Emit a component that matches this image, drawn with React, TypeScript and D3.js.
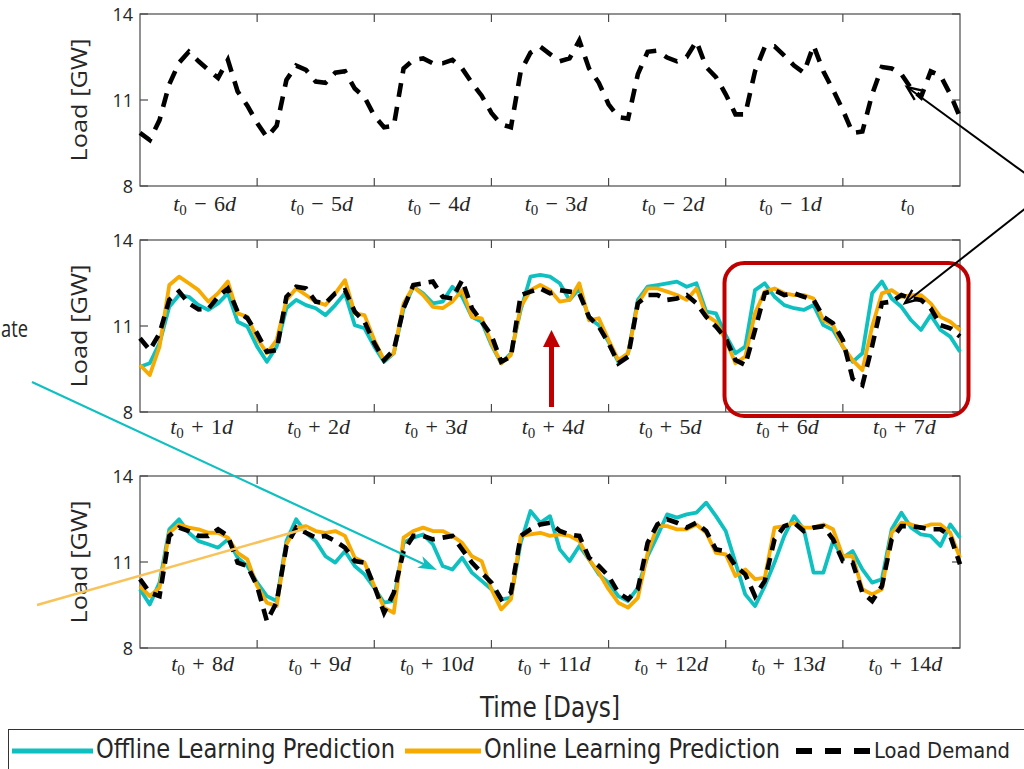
import React from 'react';
import * as d3 from 'd3';

// ---------- data ----------
const daysPast = [-6, -5, -4, -3, -2, -1, 0];
const daysNext = [1, 2, 3, 4, 5, 6, 7];
const daysLater = [8, 9, 10, 11, 12, 13, 14];
const yTicks = [8, 11, 14];
const samplesPerDay = 12; // one value every 2 hours

// Panel 1: load demand over the past week
const demandPast = [
  9.85, 9.6, 10.3, 11.55, 12.3, 12.68, 12.35, 12.05, 11.77, 12.4, 11.3, 10.8,
  10.2, 9.7, 10.1, 11.7, 12.2, 12.05, 11.64, 11.6, 11.95, 12.0, 11.4, 11.1,
  10.45, 10.05, 10.1, 12.1, 12.4, 12.45, 12.28, 12.28, 12.4, 12.1, 11.6, 11.15,
  10.55, 10.15, 10.05, 12.0, 12.65, 12.86, 12.6, 12.35, 12.45, 13.08, 12.1, 11.6,
  10.85, 10.4, 10.35, 11.9, 12.68, 12.72, 12.48, 12.35, 12.5, 13.05, 12.15, 11.8,
  11.2, 10.5, 10.5, 12.0, 12.85, 12.87, 12.55, 12.2, 11.95, 12.9, 12.0, 11.35,
  10.65, 9.85, 9.9, 11.2, 12.15, 12.1, 11.9, 11.4, 11.1, 12.0, 11.85, 11.2,
  10.4,
];

// Panel 2: days t0+1 .. t0+7
const demandWeek1 = [
  10.57, 10.16, 10.74, 11.91, 12.2, 11.79, 11.58, 11.6, 12.02, 12.31, 11.5, 11.27,
  10.74, 10.1, 10.16, 12.02, 12.37, 12.31, 11.85, 11.79, 12.14, 12.25, 11.5, 11.15,
  10.4, 9.81, 10.16, 11.62, 12.43, 12.49, 12.55, 12.02, 11.96, 12.6, 11.62, 11.15,
  10.68, 9.75, 9.93, 12.08, 12.2, 12.31, 12.14,
  12.25, 12.2, 12.14, 11.32, 10.98, 10.4, 9.7, 9.93, 11.79, 12.08, 12.08, 11.91,
  11.96, 12.08, 11.79, 11.32, 10.98, 10.57, 9.81, 9.64, 10.86, 12.14, 12.25, 12.08,
  12.14, 12.02, 11.91, 11.32, 11.09, 10.51, 9.17, 8.94, 10.3, 11.8, 11.85, 12.08,
  11.96, 11.91, 11.62, 11.03, 10.92, 10.63,
];
const offlineWeek1 = [
  9.58, 9.7, 10.4, 11.67, 12.08, 12.02, 11.73, 11.56, 11.79, 12.14, 11.15, 10.98,
  10.28, 9.75, 10.28, 11.62, 11.91, 11.73, 11.62, 11.38, 11.73, 12.14, 11.03, 10.92,
  10.28, 9.75, 10.05, 11.62, 12.37, 12.14, 11.79, 11.85, 12.37, 12.02, 11.32, 11.15,
  10.34, 9.7, 10.05, 11.56, 12.72, 12.78, 12.72,
  12.49, 11.91, 12.31, 11.27, 11.03, 10.45, 9.75, 10.05, 11.91, 12.37, 12.43, 12.49,
  12.55, 12.37, 12.49, 11.5, 11.44, 10.68, 10.05, 10.28, 12.25, 12.49, 12.02, 11.73,
  11.62, 11.56, 11.73, 11.03, 10.86, 10.28, 9.75, 10.05, 12.14, 12.55, 11.96, 11.67,
  11.2, 10.86, 11.38, 10.86, 10.63, 10.1,
];
const onlineWeek1 = [
  9.64, 9.29, 10.28, 12.43, 12.72, 12.49, 12.25, 11.85, 12.14, 12.55, 11.44, 11.32,
  10.57, 10.05, 10.51, 11.91, 12.31, 12.08, 11.85, 11.73, 12.14, 12.6, 11.44, 11.38,
  10.51, 9.81, 10.05, 11.79, 12.37, 12.08, 11.67, 11.62, 11.85, 12.25, 11.32, 11.27,
  10.4, 9.7, 9.99, 11.67, 12.25, 12.43, 12.25,
  11.85, 11.91, 12.49, 11.2, 11.27, 10.51, 9.81, 10.05, 11.79, 12.31, 12.31, 12.2,
  12.08, 11.91, 12.31, 11.38, 11.15, 10.51, 9.7, 9.93, 11.44, 12.2, 12.31, 12.14,
  12.08, 12.08, 11.96, 11.2, 11.03, 10.28, 9.81, 9.46, 10.98, 12.14, 12.25, 12.02,
  12.08, 12.08, 11.79, 11.32, 11.15, 10.86,
];

// Panel 3: days t0+8 .. t0+14
const demandWeek2 = [
  10.4, 9.93, 9.81, 11.91, 12.2, 12.08, 11.91, 11.91, 12.14, 11.91, 10.98, 10.86,
  10.16, 8.94, 9.6, 11.56, 12.2, 12.02, 11.85, 11.91, 11.73, 11.5, 11.03, 10.98,
  10.16, 9.23, 9.93, 11.38, 11.91, 11.91, 11.79, 11.85, 11.91, 11.44, 10.98, 10.63,
  10.28, 9.7, 9.93, 11.91, 12.14, 12.31, 12.37,
  12.08, 11.96, 11.91, 11.15, 10.86, 10.51, 9.93, 9.7, 10.05, 11.67, 12.31, 12.49,
  12.37, 12.2, 12.37, 12.08, 11.44, 11.38, 10.86, 10.57, 9.81, 10.34, 11.79, 12.25,
  12.37, 12.08, 12.2, 12.25, 11.79, 11.03, 10.98, 9.93, 9.64, 10.16, 11.79, 12.25,
  12.25, 12.2, 12.14, 12.14, 11.91, 10.92,
];
const offlineWeek2 = [
  10.05, 9.52, 10.28, 12.14, 12.49, 12.02, 11.73, 11.62, 11.5, 11.79, 11.15, 10.86,
  10.28, 9.81, 9.64, 11.73, 12.49, 12.02, 11.73, 11.2, 10.98, 11.38, 10.86, 10.57,
  10.1, 9.58, 9.64, 11.67, 11.85, 11.96, 11.62, 10.86, 10.74, 11.15, 10.63, 10.34,
  10.05, 9.7, 9.75, 11.67, 12.78, 12.37, 12.6,
  11.44, 11.03, 11.56, 11.09, 10.57, 10.28, 9.81, 9.64, 10.1, 11.2, 11.91, 12.66,
  12.55, 12.66, 12.72, 13.07, 12.6, 12.08, 10.98, 9.87, 9.46, 10.16, 10.98, 11.91,
  12.6, 12.14, 10.63, 10.63, 11.73, 11.15, 11.38, 10.74, 10.28, 10.4, 12.14, 12.72,
  12.2, 11.96, 11.91, 11.56, 12.31, 11.85,
];
const onlineWeek2 = [
  10.16, 9.81, 10.1, 12.02, 12.31, 12.2, 12.14, 12.02, 12.02, 11.85, 11.32, 11.09,
  10.16, 9.58, 9.46, 11.62, 12.2, 12.25, 12.08, 12.02, 12.08, 11.91, 11.15, 10.98,
  10.16, 9.41, 9.23, 11.85, 12.08, 12.2, 12.08, 12.08, 11.91, 11.67, 11.2, 11.03,
  10.05, 9.35, 9.7, 11.91, 11.96, 12.02, 11.91,
  11.96, 11.91, 11.73, 11.09, 10.63, 10.05, 9.58, 9.41, 9.75, 11.32, 12.25, 12.25,
  12.14, 12.14, 12.31, 12.02, 11.32, 11.27, 10.51, 10.74, 10.4, 10.45, 12.2, 12.25,
  12.37, 12.2, 12.2, 12.31, 12.14, 11.2, 11.2, 10.05, 9.87, 10.05, 12.02, 12.37,
  12.31, 12.2, 12.31, 12.31, 12.02, 11.15,
];

const legendLabels = ['Offline Learning Prediction', 'Online Learning Prediction', 'Load Demand'];

// ---------- styling ----------
const CYAN = '#0FC0C0';
const ORANGE = '#F7AA00';
const BLACK = '#000000';
const RED = '#C00000';
const TEXT = '#262626';
const AXIS = '#4a4a4a';

const X0 = 140;
const X1 = 960;

type Panel = {
  top: number;
  bottom: number;
  days: number[];
  labelY: number;
  labelDx: number;
  demand: number[];
  offline?: number[];
  online?: number[];
  dash: string;
};

const panels: Panel[] = [
  { top: 14, bottom: 186, days: daysPast, labelY: 211, labelDx: 6, demand: demandPast, dash: '14,10' },
  { top: 240, bottom: 412, days: daysNext, labelY: 434, labelDx: 3, demand: demandWeek1, offline: offlineWeek1, online: onlineWeek1, dash: '12,8' },
  { top: 476, bottom: 648, days: daysLater, labelY: 671, labelDx: 4, demand: demandWeek2, offline: offlineWeek2, online: onlineWeek2, dash: '12,8' },
];

const x = d3.scaleLinear().domain([0, 7]).range([X0, X1]);

function DayLabel({ d, cx, y }: { d: number; cx: number; y: number }) {
  const sp = '\u2004';
  return (
    <text x={cx} y={y} textAnchor="middle" fontFamily="'Liberation Serif', 'DejaVu Serif', serif" fontSize={22} fill={TEXT} style={{ whiteSpace: 'pre' }}>
      <tspan fontStyle="italic">t</tspan>
      <tspan fontSize={15} dy={4}>0</tspan>
      {d !== 0 ? <tspan dy={-4}>{`${sp}${d < 0 ? '\u2212' : '+'}${sp}${Math.abs(d)}`}</tspan> : null}
      {d !== 0 ? <tspan fontStyle="italic">d</tspan> : null}
    </text>
  );
}

function arrowHeadLines(x1: number, y1: number, x2: number, y2: number, len: number, ang: number) {
  const a = Math.atan2(y1 - y2, x1 - x2);
  const p1 = [x2 + len * Math.cos(a + ang), y2 + len * Math.sin(a + ang)];
  const p2 = [x2 + len * Math.cos(a - ang), y2 + len * Math.sin(a - ang)];
  return `M${p1[0]},${p1[1]}L${x2},${y2}L${p2[0]},${p2[1]}`;
}

function stealthHead(x1: number, y1: number, x2: number, y2: number, len: number, ang: number) {
  const a = Math.atan2(y1 - y2, x1 - x2);
  const p1 = [x2 + len * Math.cos(a + ang), y2 + len * Math.sin(a + ang)];
  const p2 = [x2 + len * Math.cos(a - ang), y2 + len * Math.sin(a - ang)];
  const n = [x2 + len * 0.7 * Math.cos(a), y2 + len * 0.7 * Math.sin(a)];
  return `M${x2},${y2}L${p1[0]},${p1[1]}L${n[0]},${n[1]}L${p2[0]},${p2[1]}Z`;
}

function PanelView({ p }: { p: Panel }) {
  const y = d3.scaleLinear().domain([8, 14]).range([p.bottom, p.top]);
  const line = d3
    .line<number>()
    .x((_, i) => x(i / samplesPerDay))
    .y((v) => y(v))
    .curve(d3.curveLinear);
  const mid = (p.top + p.bottom) / 2;
  return (
    <g>
      <rect x={X0} y={p.top} width={X1 - X0} height={p.bottom - p.top} fill="#fff" stroke={AXIS} strokeWidth={1.2} />
      {d3.range(1, 7).map((k) => (
        <g key={k}>
          <line x1={x(k)} x2={x(k)} y1={p.top} y2={p.top + 8} stroke={AXIS} strokeWidth={1.2} />
          <line x1={x(k)} x2={x(k)} y1={p.bottom} y2={p.bottom - 8} stroke={AXIS} strokeWidth={1.2} />
        </g>
      ))}
      {yTicks.map((t) => (
        <g key={t}>
          <line x1={X0} x2={X0 + 8} y1={y(t)} y2={y(t)} stroke={AXIS} strokeWidth={1.2} />
          <line x1={X1} x2={X1 - 8} y1={y(t)} y2={y(t)} stroke={AXIS} strokeWidth={1.2} />
          <text x={133} y={y(t) + 6.5} textAnchor="end" fontFamily="'Open Sans', sans-serif" fontSize={18} fill={TEXT}>
            {t}
          </text>
        </g>
      ))}
      <text
        transform={`translate(87,${mid}) rotate(-90)`}
        textAnchor="middle"
        fontFamily="'Open Sans', sans-serif"
        fontSize={21}
        fill={TEXT}
        textLength={123}
        lengthAdjust="spacingAndGlyphs"
      >
        Load [GW]
      </text>
      {p.days.map((d, k) => (
        <DayLabel key={d} d={d} cx={x(k + 0.5) + p.labelDx} y={p.labelY} />
      ))}
      {p.offline ? <path d={line(p.offline) || ''} fill="none" stroke={CYAN} strokeWidth={3.8} strokeLinejoin="round" /> : null}
      {p.online ? <path d={line(p.online) || ''} fill="none" stroke={ORANGE} strokeWidth={3.8} strokeLinejoin="round" /> : null}
      <path d={line(p.demand) || ''} fill="none" stroke={BLACK} strokeWidth={4.6} strokeDasharray={p.dash} />
    </g>
  );
}

export default function App() {
  const condensed = "'DejaVu Sans Condensed', 'DejaVu Sans', sans-serif";
  return (
    <svg width={1024} height={769} style={{ position: 'absolute', left: 0, top: 0, background: '#fff' }}>
      <rect x={0} y={0} width={1024} height={769} fill="#fff" />
      {panels.map((p, i) => (
        <PanelView key={i} p={p} />
      ))}

      {/* x-axis title */}
      <text x={550} y={717} textAnchor="middle" fontFamily={condensed} fontSize={28} fill={TEXT} textLength={140} lengthAdjust="spacingAndGlyphs">
        Time [Days]
      </text>

      {/* legend */}
      <rect x={8.5} y={729.5} width={1100} height={60} fill="#fff" stroke="#333" strokeWidth={1} />
      <line x1={12} x2={93} y1={751} y2={751} stroke={CYAN} strokeWidth={5} />
      <text x={96} y={758} fontFamily={condensed} fontSize={26} fill={TEXT} textLength={299} lengthAdjust="spacingAndGlyphs">
        {legendLabels[0]}
      </text>
      <line x1={405} x2={481} y1={751} y2={751} stroke={ORANGE} strokeWidth={5} />
      <text x={484} y={758} fontFamily={condensed} fontSize={26} fill={TEXT} textLength={296} lengthAdjust="spacingAndGlyphs">
        {legendLabels[1]}
      </text>
      <line x1={796} x2={870} y1={751} y2={751} stroke={BLACK} strokeWidth={6} strokeDasharray="16,13" />
      <text x={874} y={758} fontFamily={condensed} fontSize={22} fill={TEXT} textLength={136} lengthAdjust="spacingAndGlyphs">
        {legendLabels[2]}
      </text>

      {/* annotations */}
      <text x={1} y={337} fontFamily="'Open Sans', sans-serif" fontSize={23} fill={TEXT} textLength={27} lengthAdjust="spacingAndGlyphs">
        ate
      </text>
      <rect x={724.5} y={263} width={244} height={153} rx={20} ry={20} fill="none" stroke={RED} strokeWidth={4} />
      <line x1={551.5} x2={551.5} y1={407} y2={344} stroke={RED} strokeWidth={5} />
      <path d="M551.5,330L560,347L543,347Z" fill={RED} />

      <line x1={1026} y1={174} x2={907} y2={87} stroke={BLACK} strokeWidth={2} />
      <path d={arrowHeadLines(1026, 174, 907, 87, 15, 0.4)} fill="none" stroke={BLACK} strokeWidth={2.4} />
      <line x1={1026} y1={208} x2={905} y2={303} stroke={BLACK} strokeWidth={2} />
      <path d={arrowHeadLines(1026, 208, 905, 303, 15, 0.4)} fill="none" stroke={BLACK} strokeWidth={2.4} />

      <line x1={32} y1={382} x2={430} y2={567} stroke={CYAN} strokeWidth={2.2} />
      <path d={stealthHead(32, 382, 437, 570, 20, 0.32)} fill={CYAN} />
      <line x1={37} y1={605} x2={308} y2={528} stroke="#F7C35A" strokeWidth={2.5} />
    </svg>
  );
}
